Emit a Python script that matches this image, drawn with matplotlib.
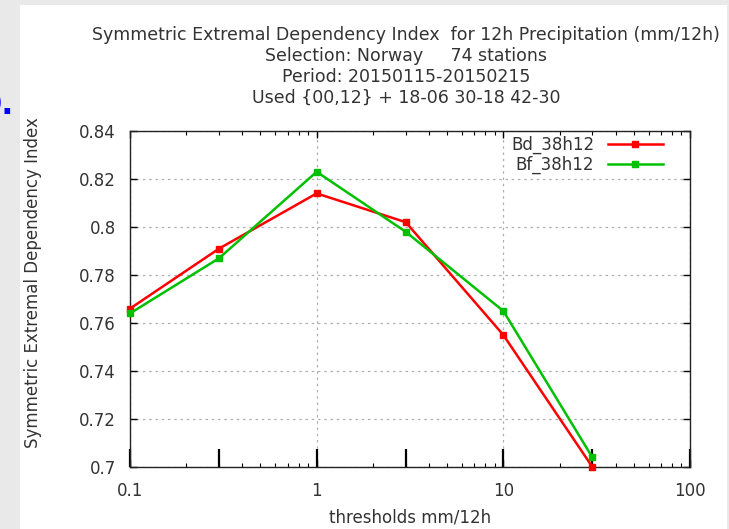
import matplotlib
matplotlib.use("Agg")
import matplotlib.pyplot as plt
from matplotlib.patches import Rectangle

# thresholds (mm/12h) and scores for the two experiments
thresholds = [0.1, 0.3, 1, 3, 10, 30]
bd_sedi = [0.766, 0.791, 0.814, 0.802, 0.755, 0.700]
bf_sedi = [0.764, 0.787, 0.823, 0.798, 0.765, 0.704]
series_names = ["Bd_38h12", "Bf_38h12"]
series_colors = ["#ff0000", "#00c000"]

xtick_vals = [0.1, 1, 10, 100]
xtick_labels = ["0.1", "1", "10", "100"]
ytick_vals = [0.70, 0.72, 0.74, 0.76, 0.78, 0.80, 0.82, 0.84]
ytick_labels = ["0.7", "0.72", "0.74", "0.76", "0.78", "0.8", "0.82", "0.84"]
long_ticks = [0.1, 0.3, 1, 3, 10, 30, 100]

title_lines = [
    "Symmetric Extremal Dependency Index  for 12h Precipitation (mm/12h)",
    "Selection: Norway     74 stations",
    "Period: 20150115-20150215",
    "Used {00,12} + 18-06 30-18 42-30",
]

txt = "#333333"
W, H = 729, 529
fig = plt.figure(figsize=(W / 100, H / 100), dpi=100, facecolor="#e9e9e9")
fig.patches.append(Rectangle((20 / W, 0), 707 / W, 524 / H, transform=fig.transFigure,
                             facecolor="white", edgecolor="none", zorder=-5))
fig.text(14 / W, 1 - 106 / H, "0.", color="#0000ff", fontsize=23, fontweight="bold",
         ha="right", va="center")

ax = fig.add_axes([130 / W, 1 - 467 / H, 560 / W, 336 / H])
ax.set_xscale("log")
ax.set_xlim(0.1, 100)
ax.set_ylim(0.7, 0.84)

for vals, name, col in zip([bd_sedi, bf_sedi], series_names, series_colors):
    ax.plot(thresholds, vals, color=col, lw=1.8, marker="s", ms=5, label=name,
            clip_on=False, zorder=3)

ax.set_xticks(xtick_vals)
ax.set_xticklabels(xtick_labels)
ax.set_yticks(ytick_vals)
ax.set_yticklabels(ytick_labels)
ax.tick_params(axis="both", which="major", direction="in", length=5, width=1,
               top=True, right=True, labelsize=12, labelcolor=txt)
ax.tick_params(axis="x", which="major", pad=11)
ax.tick_params(axis="y", which="major", pad=10)
ax.tick_params(axis="x", which="minor", direction="in", length=3, width=0.8, top=True)
ax.xaxis.set_minor_formatter(plt.NullFormatter())

# long marks at every threshold along the bottom
ax.vlines(long_ticks, 0, 18 / 336, transform=ax.get_xaxis_transform(),
          color="black", lw=1.6, clip_on=False)

ax.grid(True, which="major", color="#b0b0b0", ls=(0, (2, 3)), lw=0.9)
for s in ax.spines.values():
    s.set_linewidth(1.0)
    s.set_color("#222222")

ax.set_xlabel("thresholds mm/12h", fontsize=12, color=txt, labelpad=6)
ax.set_ylabel("Symmetric Extremal Dependency Index", fontsize=12, color=txt,
              labelpad=27, y=0.548)

for i, line in enumerate(title_lines):
    fig.text(406 / W, 1 - (35 + 21 * i) / H, line, ha="center", va="center",
             fontsize=12.5, color=txt)

leg = ax.legend(loc="upper right", bbox_to_anchor=(0.96, 1.0), frameon=False, fontsize=12,
                markerfirst=False, handlelength=3.3, borderaxespad=0, borderpad=0.3,
                labelspacing=0.1, handletextpad=0.8)
for t in leg.get_texts():
    t.set_color(txt)

fig.savefig("out.png", dpi=100, facecolor=fig.get_facecolor())
